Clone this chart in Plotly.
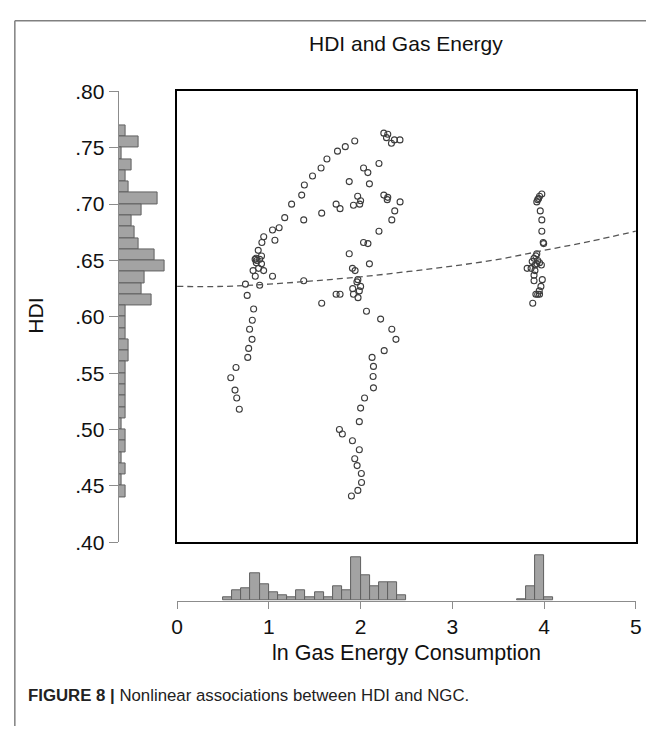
import plotly.graph_objects as go

# ---------------- data ----------------
gas_x = [0.745, 0.764, 0.90, 1.04, 0.852, 0.828, 0.943, 0.888, 0.92, 0.863, 0.85, 0.86, 0.87, 0.90, 0.92, 0.884,
         1.066, 0.924, 0.944, 1.04, 1.112, 1.173, 1.38, 1.248, 1.358, 1.387, 1.476, 1.569, 1.633, 1.748, 1.833, 1.936,
         0.834, 0.82, 0.79, 0.817, 0.78, 0.77, 0.642, 0.585, 0.631, 0.65, 0.678,
         2.253, 2.296, 2.282, 2.368, 2.429, 2.336,
         2.20, 2.032, 2.079, 1.876, 2.096, 2.253, 2.296, 2.29, 2.43, 2.372, 2.34, 1.968, 2.0, 1.99, 1.922, 1.733,
         1.776, 1.576, 2.20, 2.032, 2.08, 1.876, 2.096, 1.911, 1.94, 1.97, 1.96, 2.0, 1.914, 1.986, 1.922, 1.972,
         1.733, 1.776, 1.38, 1.576, 2.064, 2.218, 2.34,
         2.385, 2.257, 2.125, 2.14, 2.136, 2.14, 2.043, 2.0, 1.986, 1.769, 1.801, 1.911, 1.986, 1.936, 1.962, 2.008,
         2.01, 1.97, 1.90,
         3.975, 3.95, 3.94, 3.93, 3.92, 3.958, 3.975, 3.975, 3.99, 3.995, 3.92, 3.91, 3.89, 3.93, 3.87, 3.95, 3.92,
         3.90, 3.97, 3.858, 3.815, 3.90, 3.89, 3.89, 3.98, 3.965, 3.947, 3.91, 3.93, 3.95, 3.876]
hdi_y = [0.629, 0.619, 0.628, 0.636, 0.636, 0.641, 0.641, 0.643, 0.647, 0.648, 0.651, 0.652, 0.650, 0.651, 0.654, 0.659,
         0.668, 0.666, 0.671, 0.677, 0.679, 0.688, 0.686, 0.700, 0.708, 0.717, 0.725, 0.732, 0.740, 0.747, 0.751, 0.756,
         0.607, 0.597, 0.589, 0.580, 0.572, 0.564, 0.555, 0.546, 0.535, 0.528, 0.518,
         0.763, 0.762, 0.759, 0.757, 0.757, 0.754,
         0.736, 0.732, 0.728, 0.720, 0.718, 0.708, 0.706, 0.704, 0.702, 0.694, 0.686, 0.707, 0.703, 0.700, 0.699, 0.700,
         0.696, 0.692, 0.676, 0.666, 0.665, 0.656, 0.647, 0.643, 0.641, 0.633, 0.631, 0.627, 0.625, 0.623, 0.620, 0.617,
         0.620, 0.620, 0.632, 0.612, 0.605, 0.598, 0.589,
         0.580, 0.570, 0.564, 0.556, 0.547, 0.537, 0.528, 0.519, 0.507, 0.500, 0.496, 0.490, 0.482, 0.474, 0.468, 0.461,
         0.453, 0.446, 0.441,
         0.709, 0.707, 0.705, 0.704, 0.702, 0.694, 0.686, 0.676, 0.666, 0.665, 0.656, 0.654, 0.652, 0.650, 0.649, 0.648, 0.647,
         0.646, 0.646, 0.643, 0.643, 0.641, 0.637, 0.632, 0.633, 0.627, 0.623, 0.620, 0.620, 0.620, 0.612]

# fitted (quadratic) curve
fit_x = [0, 0.5, 1, 1.5, 2, 2.5, 3, 3.5, 4, 4.5, 5]
fit_y = [0.627, 0.627, 0.629, 0.632, 0.6355, 0.640, 0.645, 0.651, 0.659, 0.667, 0.676]

# marginal histogram of HDI (bin lower edges, width 0.01)
hdi_bin_lo = [0.76, 0.75, 0.74, 0.73, 0.72, 0.71, 0.70, 0.69, 0.68, 0.67, 0.66, 0.65, 0.64, 0.63, 0.62, 0.61,
              0.60, 0.59, 0.58, 0.57, 0.56, 0.55, 0.54, 0.53, 0.52, 0.51, 0.50, 0.49, 0.48, 0.47, 0.46, 0.45, 0.44]
hdi_freq = [2, 6, 1, 4, 2, 3, 12, 7, 4, 5, 6, 11, 14, 8, 7, 10,
            2, 2, 2, 3, 3, 2, 2, 2, 2, 2, 1, 2, 2, 1, 2, 1, 2]
hdi_bin_w = 0.01

# marginal histogram of ln gas (bin lower edges, width 0.1)
gas_bin_lo = [0.5, 0.6, 0.7, 0.8, 0.9, 1.0, 1.1, 1.2, 1.3, 1.4, 1.5, 1.6, 1.7, 1.8, 1.9, 2.0, 2.1, 2.2, 2.3, 2.4,
              3.7, 3.8, 3.9, 4.0]
gas_freq = [1.0, 3.1, 3.7, 8.5, 5.2, 2.5, 1.8, 1.0, 3.1, 1.0, 2.5, 1.0, 4.5, 3.1, 13.4, 7.9, 4.5, 5.8, 5.8, 1.8,
            0.3, 4.5, 14.1, 1.0]
gas_bin_w = 0.1

x_ticks = [0, 1, 2, 3, 4, 5]
y_ticks = [0.40, 0.45, 0.50, 0.55, 0.60, 0.65, 0.70, 0.75, 0.80]
y_ticktext = [".40", ".45", ".50", ".55", ".60", ".65", ".70", ".75", ".80"]

title_text = "HDI and Gas Energy"
x_title = "ln Gas Energy Consumption"
y_title = "HDI"
caption_bold = "FIGURE 8 |"
caption_rest = " Nonlinear associations between HDI and NGC."

# ---------------- layout geometry (pixels) ----------------
W, H = 652, 737
def px(x): return x / W
def py(y): return 1 - y / H

main_x = [px(174.3), px(641.7)]
main_y = [py(547.3), py(82)]
lh_x = [px(114.7), px(164.7)]
bh_y = [py(607.7), py(557.7)]

FONT = "Liberation Sans, Arial, Helvetica, sans-serif"
BAR_FILL = "#a3a3a3"
BAR_LINE = "#606060"
AX_GRAY = "#8c8c8c"

fig = go.Figure()

fig.add_trace(go.Scatter(
    x=gas_x, y=hdi_y, mode="markers", xaxis="x", yaxis="y",
    marker=dict(symbol="circle-open", size=6, color="#3c3c3c", line=dict(width=1.1)),
    showlegend=False, hoverinfo="x+y"))

fig.add_trace(go.Scatter(
    x=fit_x, y=fit_y, mode="lines", xaxis="x", yaxis="y",
    line=dict(color="#555555", width=1.3, dash="6px,4px", shape="spline"),
    showlegend=False))

fig.add_trace(go.Bar(
    x=hdi_freq, y=[v + hdi_bin_w / 2 for v in hdi_bin_lo], width=hdi_bin_w,
    orientation="h", xaxis="x2", yaxis="y2",
    marker=dict(color=BAR_FILL, line=dict(color=BAR_LINE, width=1)),
    showlegend=False))

fig.add_trace(go.Bar(
    x=[v + gas_bin_w / 2 for v in gas_bin_lo], y=gas_freq, width=gas_bin_w,
    xaxis="x3", yaxis="y3",
    marker=dict(color=BAR_FILL, line=dict(color=BAR_LINE, width=1)),
    showlegend=False))

tick_font = dict(family=FONT, size=21, color="#111111")

fig.update_layout(
    width=W, height=H,
    margin=dict(l=0, r=0, t=0, b=0),
    paper_bgcolor="white", plot_bgcolor="rgba(0,0,0,0)",
    font=dict(family=FONT, color="#111111"),
    bargap=0,
    xaxis=dict(domain=main_x, range=[0, 5], anchor="y", showgrid=False, zeroline=False,
               showticklabels=False, ticks="", showline=True, mirror=True,
               linecolor="black", linewidth=2),
    yaxis=dict(domain=main_y, range=[0.40, 0.80], anchor="x", showgrid=False, zeroline=False,
               showticklabels=False, ticks="", showline=True, mirror=True,
               linecolor="black", linewidth=2),
    xaxis2=dict(domain=lh_x, range=[0, 15], anchor="y2", visible=False),
    yaxis2=dict(domain=main_y, range=[0.40, 0.80], anchor="x2", showgrid=False, zeroline=False,
                showline=True, linecolor=AX_GRAY, linewidth=1, ticks="outside", ticklen=9,
                tickcolor=AX_GRAY, tickvals=y_ticks, ticktext=y_ticktext, tickfont=tick_font,
                side="left"),
    xaxis3=dict(domain=main_x, range=[0, 5], anchor="y3", showgrid=False, zeroline=False,
                showline=True, linecolor=AX_GRAY, linewidth=1, ticks="outside", ticklen=7,
                tickcolor=AX_GRAY, tickvals=x_ticks, tickfont=tick_font),
    yaxis3=dict(domain=bh_y, range=[0, 15], anchor="x3", visible=False),
    annotations=[
        dict(text=title_text, x=px(408), y=py(33), xref="paper", yref="paper", showarrow=False,
             font=dict(family=FONT, size=21, color="#111111"), xanchor="center", yanchor="middle"),
        dict(text=x_title, x=px(408), y=py(662), xref="paper", yref="paper", showarrow=False,
             font=dict(family=FONT, size=21.5, color="#111111"), xanchor="center", yanchor="middle"),
        dict(text=y_title, x=px(30), y=py(313), xref="paper", yref="paper", showarrow=False,
             textangle=-90, font=dict(family=FONT, size=21, color="#111111"),
             xanchor="center", yanchor="middle"),
        dict(text="<b>" + caption_bold + "</b>" + caption_rest, x=px(20), y=py(706),
             xref="paper", yref="paper", showarrow=False,
             font=dict(family=FONT, size=16.8, color="#222222"), xanchor="left", yanchor="middle"),
    ],
    shapes=[
        dict(type="line", xref="paper", yref="paper", x0=px(9), x1=1, y0=py(9), y1=py(9),
             line=dict(color="#808080", width=1.5)),
        dict(type="line", xref="paper", yref="paper", x0=px(9), x1=px(9), y0=py(9), y1=0,
             line=dict(color="#808080", width=1.5)),
    ],
)

fig.write_html("out.html")
